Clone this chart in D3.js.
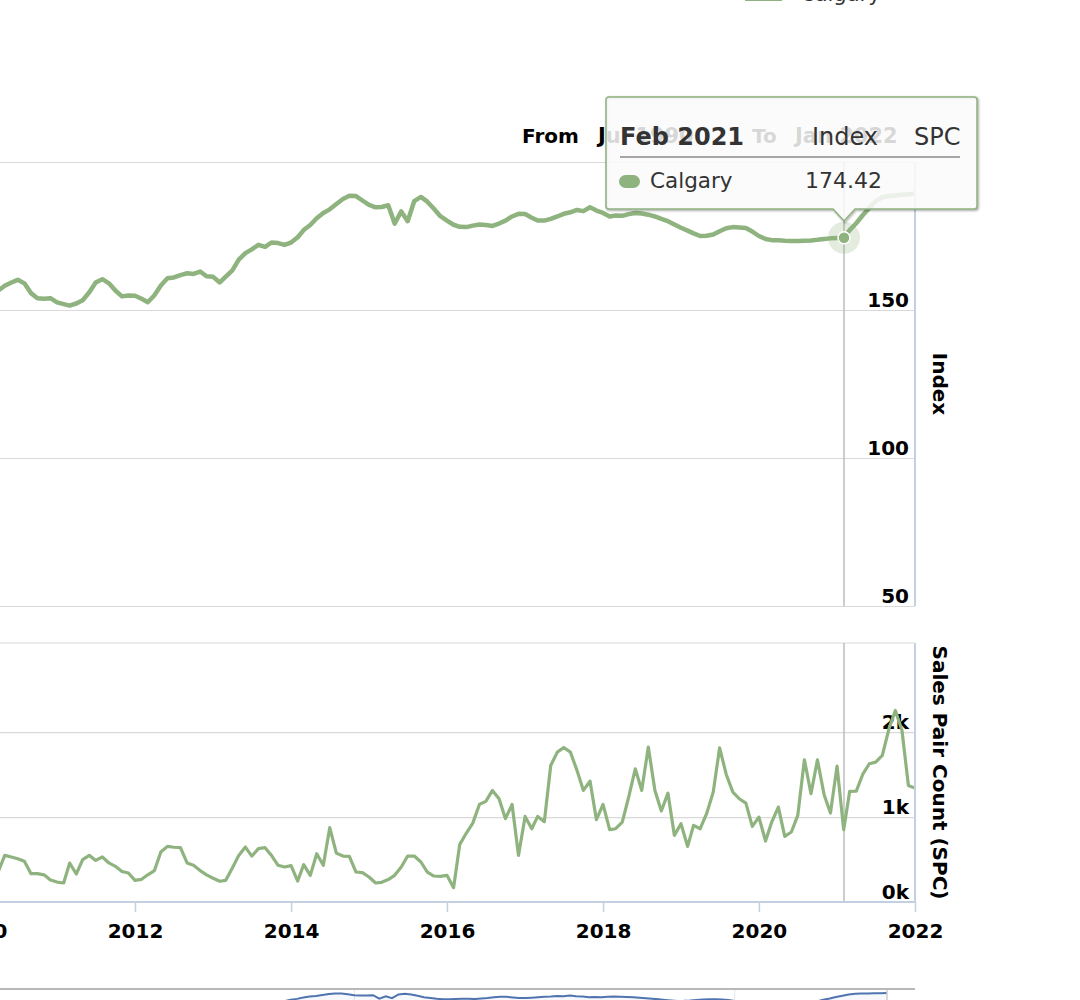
<!DOCTYPE html>
<html>
<head>
<meta charset="utf-8">
<script src="https://cdn.jsdelivr.net/npm/d3@7"></script>
<style>
  body { margin: 0; background: #fff; }
  svg { display: block; font-family: "DejaVu Sans", sans-serif; }
</style>
</head>
<body>
<div id="chart"></div>
<script>
// Monthly data for Calgary, first month below, one value per month
var startMonth = "2010-01";

// House price index
var indexValues = [
  153.0, 154.0, 155.5, 156.6, 158.2, 159.3, 160.2, 159.0, 155.7, 154.0, 153.8, 154.0,
  152.6, 152.0, 151.5, 152.2, 153.3, 156.0, 159.3, 160.4, 159.0, 156.6, 154.6, 154.9,
  154.8, 153.8, 152.6, 155.0, 158.3, 160.7, 161.0, 161.8, 162.4, 162.2, 163.0, 161.4,
  161.2, 159.3, 161.3, 163.4, 167.0, 169.2, 170.5, 172.0, 171.3, 172.8, 172.6, 172.0,
  172.8, 174.6, 177.0, 178.7, 181.0, 182.8, 184.0, 185.8, 187.5, 188.6, 188.5, 187.0,
  185.5, 184.7, 184.8, 185.4, 179.2, 183.3, 180.0, 186.8, 188.2, 186.6, 184.2, 181.7,
  180.2, 178.8, 178.1, 178.0, 178.5, 178.9, 178.7, 178.4, 179.2, 180.2, 181.6, 182.5,
  182.4, 181.2, 180.2, 180.2, 180.8, 181.6, 182.5, 183.0, 183.8, 183.4, 184.7, 183.6,
  182.8, 181.6, 181.9, 181.8, 182.4, 182.8, 182.6, 182.2, 181.6, 180.8, 180.0, 178.9,
  177.8, 176.8, 175.9, 175.0, 175.1, 175.5, 176.6, 177.6, 178.0, 177.9, 177.7, 176.5,
  175.0, 174.0, 173.6, 173.6, 173.4, 173.3, 173.3, 173.4, 173.5, 173.7, 174.0, 174.2,
  174.3, 174.42, 177.0, 179.3, 182.0, 184.5, 186.8, 188.1, 188.5, 188.7, 188.9, 189.1,
  189.4
];

// Sales pair count
var spcValues = [
  300, 320, 400, 360, 549, 530, 510, 480, 334, 334, 320, 260,
  235, 224, 459, 330, 499, 549, 490, 530, 460, 420, 360, 341,
  255, 267, 320, 370, 588, 655, 645, 640, 460, 432, 370, 320,
  280, 244, 255, 400, 549, 647, 541, 628, 640, 549, 432, 412,
  428, 247, 440, 314, 569, 432, 875, 576, 541, 538, 353, 346,
  294, 224, 232, 264, 314, 412, 541, 541, 471, 353, 306, 302,
  314, 169, 679, 812, 929, 1149, 1185, 1314, 1216, 981, 1149, 549,
  1008, 863, 1008, 945, 1608, 1765, 1820, 1765, 1550, 1314, 1424, 969,
  1149, 852, 863, 941, 1235, 1569, 1314, 1824, 1314, 1071, 1282, 785,
  922, 655, 902, 863, 1040, 1294, 1816, 1502, 1294, 1216, 1165, 891,
  1000, 718, 941, 1118, 773, 824, 1020, 1675, 1275, 1675, 1267, 1047,
  1600, 852, 1302, 1306, 1502, 1628, 1647, 1726, 2040, 2255, 2020, 1373,
  1341
];

// Tick values
var yearTicks = [2010, 2012, 2014, 2016, 2018, 2020, 2022];
var navYearTicks = [2015, 2020];
var indexTicks = [50, 100, 150, 200];
var spcTicks = [0, 1000, 2000, 3000];

// Texts
var seriesName = "Calgary";
var hoverMonth = "Feb 2021";
var rangeFrom = "Jul 1990";
var rangeTo = "Jan 2022";

var green = "#8fb37f";
var axisBlue = "#c3d0e2";
var gridGray = "#d9d9d9";

var svg = d3
  .select("#chart")
  .append("svg")
  .attr("width", 1080)
  .attr("height", 1000);

// Dates for every month
var parseMonth = d3.utcParse("%Y-%m");
var fmtMonth = d3.utcFormat("%b %Y");
var months = indexValues.map((d, i) => d3.utcMonth.offset(parseMonth(startMonth), i));
var data = months.map((m, i) => ({ date: m, index: indexValues[i], spc: spcValues[i] }));

// Scales
var x = d3
  .scaleUtc()
  .domain([new Date(Date.UTC(2012, 0, 1)), new Date(Date.UTC(2022, 0, 1))])
  .range([135, 915]);

var yIndex = d3.scaleLinear().domain([50, 200]).range([606, 162]);
var ySpc = d3.scaleLinear().domain([0, 3050]).range([902, 643]);

var plotRight = 915;

// Gridlines + y labels, top pane (last label hidden like the original)
var indexAxis = svg
  .append("g")
  .attr("transform", `translate(${plotRight},0)`)
  .call(
    d3
      .axisLeft(yIndex)
      .tickValues(indexTicks)
      .tickSize(plotRight + 20)
      .tickFormat((d) => (d === 200 ? "" : d))
  );
indexAxis.select(".domain").remove();

// Gridlines + y labels, bottom pane
var spcAxis = svg
  .append("g")
  .attr("transform", `translate(${plotRight},0)`)
  .call(
    d3
      .axisLeft(ySpc)
      .tickValues(spcTicks.slice(0, 3))
      .tickSize(plotRight + 20)
      .tickFormat((d) => d / 1000 + "k")
  );
spcAxis.select(".domain").remove();

// top border of the bottom pane
svg
  .append("line")
  .attr("x1", -20)
  .attr("x2", plotRight)
  .attr("y1", ySpc.range()[1])
  .attr("y2", ySpc.range()[1])
  .attr("stroke", gridGray)
  .attr("stroke-width", 1.2);

[indexAxis, spcAxis].forEach(function (g) {
  g.selectAll(".tick line").attr("stroke", gridGray).attr("stroke-width", 1.2);
  g.selectAll(".tick text")
    .attr("x", -6)
    .attr("dy", -4)
    .attr("fill", "#000")
    .style("font-size", "20px")
    .style("font-weight", "bold")
    .style("font-family", "DejaVu Sans");
});

// Crosshair at hovered month
var hoverPoint = data.find((d) => fmtMonth(d.date) === hoverMonth);
var hx = Math.round(x(hoverPoint.date));
[yIndex, ySpc].forEach(function (s) {
  svg
    .append("line")
    .attr("x1", hx)
    .attr("x2", hx)
    .attr("y1", s.range()[1])
    .attr("y2", s.range()[0])
    .attr("stroke", "#bcbcbc")
    .attr("stroke-width", 1.5);
});

// Index line
svg
  .append("path")
  .datum(data)
  .attr("fill", "none")
  .attr("stroke", green)
  .attr("stroke-width", 4.5)
  .attr("stroke-linejoin", "round")
  .attr("d", d3.line().x((d) => x(d.date)).y((d) => yIndex(d.index)));

// SPC line
svg
  .append("path")
  .datum(data)
  .attr("fill", "none")
  .attr("stroke", green)
  .attr("stroke-width", 3.2)
  .attr("stroke-linejoin", "round")
  .attr("d", d3.line().x((d) => x(d.date)).y((d) => ySpc(d.spc)));

// Right axis lines
[yIndex, ySpc].forEach(function (s) {
  svg
    .append("line")
    .attr("x1", plotRight)
    .attr("x2", plotRight)
    .attr("y1", s.range()[1])
    .attr("y2", s.range()[0])
    .attr("stroke", axisBlue)
    .attr("stroke-width", 2);
});

// X axis
var xAxis = svg
  .append("g")
  .attr("transform", `translate(0,${ySpc.range()[0]})`)
  .call(
    d3
      .axisBottom(x)
      .tickValues(yearTicks.map((yr) => new Date(Date.UTC(yr, 0, 1))))
      .tickFormat(d3.utcFormat("%Y"))
      .tickSize(10)
  );
xAxis.select(".domain").remove();
xAxis.selectAll(".tick line").attr("stroke", axisBlue).attr("stroke-width", 1.5);
xAxis
  .selectAll(".tick text")
  .attr("y", 36)
  .attr("dy", 0)
  .attr("fill", "#000")
  .style("font-size", "20px")
  .style("font-weight", "bold")
  .style("font-family", "DejaVu Sans");
svg
  .append("line")
  .attr("x1", -20)
  .attr("x2", plotRight)
  .attr("y1", ySpc.range()[0])
  .attr("y2", ySpc.range()[0])
  .attr("stroke", axisBlue)
  .attr("stroke-width", 2);

// Axis titles
svg
  .append("text")
  .attr("transform", `translate(933,${(yIndex.range()[0] + yIndex.range()[1]) / 2}) rotate(90)`)
  .attr("text-anchor", "middle")
  .style("font-size", "20px")
  .style("font-weight", "bold")
  .text("Index");
svg
  .append("text")
  .attr("transform", `translate(933,${(ySpc.range()[0] + ySpc.range()[1]) / 2}) rotate(90)`)
  .attr("text-anchor", "middle")
  .style("font-size", "20px")
  .style("font-weight", "bold")
  .text("Sales Pair Count (SPC)");

// Navigator (bottom strip)
var navX = d3
  .scaleUtc()
  .domain([new Date(Date.UTC(2012, 0, 1)), new Date(Date.UTC(2022, 0, 1))])
  .range([126, 887]);
var navY = d3.scaleLinear().domain([100, 189.4]).range([1042, 993]);

navYearTicks.forEach(function (yr) {
  var nx = navX(new Date(Date.UTC(yr, 0, 1)));
  svg
    .append("line")
    .attr("x1", nx)
    .attr("x2", nx)
    .attr("y1", 990)
    .attr("y2", 1000)
    .attr("stroke", "#e6e6e6");
});
svg
  .append("path")
  .datum(data)
  .attr("fill", "rgba(79,116,176,0.05)")
  .attr("d", d3.area().x((d) => navX(d.date)).y0(1040).y1((d) => navY(d.index)));
svg
  .append("path")
  .datum(data)
  .attr("fill", "none")
  .attr("stroke", "#4f74b0")
  .attr("stroke-width", 2)
  .attr("d", d3.line().x((d) => navX(d.date)).y((d) => navY(d.index)));
svg
  .append("line")
  .attr("x1", 887)
  .attr("x2", 887)
  .attr("y1", 990)
  .attr("y2", 1000)
  .attr("stroke", "#cccccc")
  .attr("stroke-width", 1.5);
svg
  .append("line")
  .attr("x1", -10)
  .attr("x2", plotRight)
  .attr("y1", 989)
  .attr("y2", 989)
  .attr("stroke", "#b8b8b8")
  .attr("stroke-width", 2);

// Legend (cut off at the top)
svg
  .append("line")
  .attr("x1", 745)
  .attr("x2", 782)
  .attr("y1", -1)
  .attr("y2", -1)
  .attr("stroke", green)
  .attr("stroke-width", 4);
svg
  .append("text")
  .attr("x", 800)
  .attr("y", 1)
  .attr("fill", "#333")
  .style("font-size", "21px")
  .text(seriesName);

// Range selector texts
var rangeGroup = svg.append("g").style("font-size", "20px").style("font-weight", "bold");
rangeGroup.append("text").attr("x", 522).attr("y", 143).text("From");
rangeGroup.append("text").attr("x", 598).attr("y", 143).style("font-size", "21px").text(rangeFrom);
rangeGroup.append("text").attr("x", 752).attr("y", 143).text("To");
rangeGroup.append("text").attr("x", 795).attr("y", 143).style("font-size", "21px").text(rangeTo);

// Hover marker
var hy = yIndex(hoverPoint.index);
svg
  .append("circle")
  .attr("cx", hx)
  .attr("cy", hy)
  .attr("r", 16)
  .attr("fill", green)
  .attr("fill-opacity", 0.25);
svg
  .append("circle")
  .attr("cx", hx)
  .attr("cy", hy)
  .attr("r", 6)
  .attr("fill", green)
  .attr("stroke", "#fff")
  .attr("stroke-width", 1.5);

// Tooltip
var tip = { left: 606, top: 97, right: 977, bottom: 209, r: 3 };
var tipPath = [
  `M${tip.left + tip.r},${tip.top}`,
  `L${tip.right - tip.r},${tip.top}`,
  `Q${tip.right},${tip.top} ${tip.right},${tip.top + tip.r}`,
  `L${tip.right},${tip.bottom - tip.r}`,
  `Q${tip.right},${tip.bottom} ${tip.right - tip.r},${tip.bottom}`,
  `L${hx + 11},${tip.bottom}`,
  `L${hx},${tip.bottom + 12}`,
  `L${hx - 11},${tip.bottom}`,
  `L${tip.left + tip.r},${tip.bottom}`,
  `Q${tip.left},${tip.bottom} ${tip.left},${tip.bottom - tip.r}`,
  `L${tip.left},${tip.top + tip.r}`,
  `Q${tip.left},${tip.top} ${tip.left + tip.r},${tip.top}`,
  "Z",
].join(" ");

var tooltip = svg.append("g");
// shadow
[[5, 0.05], [3, 0.1], [1, 0.15]].forEach(function (s) {
  tooltip
    .append("path")
    .attr("d", tipPath)
    .attr("transform", "translate(1,1)")
    .attr("fill", "none")
    .attr("stroke", "#000")
    .attr("stroke-opacity", s[1])
    .attr("stroke-width", s[0]);
});
tooltip
  .append("path")
  .attr("d", tipPath)
  .attr("fill", "rgba(250,250,250,0.86)")
  .attr("stroke", green)
  .attr("stroke-width", 1.5);

var tipText = tooltip.append("g").attr("fill", "#333");
tipText
  .append("text")
  .attr("x", 620)
  .attr("y", 145)
  .style("font-size", "24px")
  .style("font-weight", "bold")
  .text(hoverMonth);
tipText.append("text").attr("x", 812).attr("y", 145).style("font-size", "24px").text("Index");
tipText.append("text").attr("x", 914).attr("y", 145).style("font-size", "24px").text("SPC");
tooltip
  .append("line")
  .attr("x1", 620)
  .attr("x2", 960)
  .attr("y1", 157)
  .attr("y2", 157)
  .attr("stroke", "#888")
  .attr("stroke-width", 1.5);
tooltip
  .append("rect")
  .attr("x", 619)
  .attr("y", 175)
  .attr("width", 21)
  .attr("height", 13)
  .attr("rx", 6.5)
  .attr("fill", green);
tipText.append("text").attr("x", 650).attr("y", 188).style("font-size", "21.5px").text(seriesName);
tipText
  .append("text")
  .attr("x", 805)
  .attr("y", 188)
  .style("font-size", "22px")
  .text(d3.format(".2f")(hoverPoint.index));
</script>
</body>
</html>
